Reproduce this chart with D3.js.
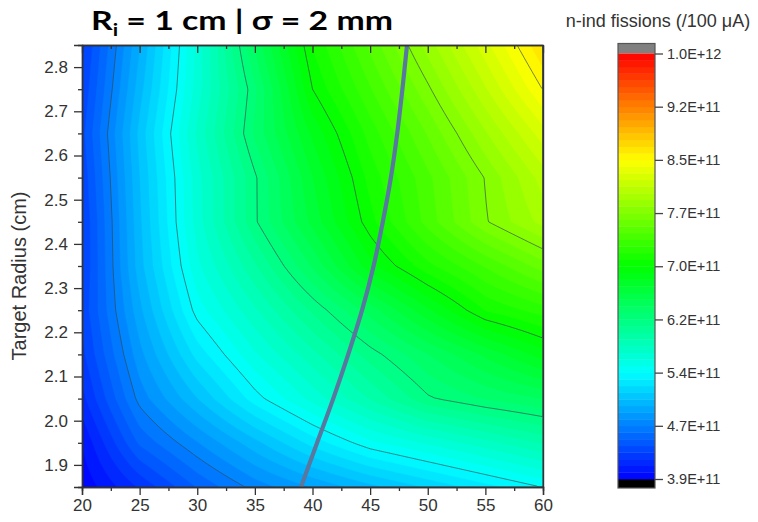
<!DOCTYPE html>
<html><head><meta charset="utf-8">
<script src="https://cdn.jsdelivr.net/npm/d3@7"></script>
<style>
body{margin:0;background:#fff}
svg{display:block}
</style>
</head><body>
<svg id="chart" width="758" height="522"></svg>
<script>
// ---------------- data ----------------
const beamEnergy   = [20, 25, 30, 35, 40, 45, 50, 55, 60];
const targetRadius = [1.85, 1.95, 2.05, 2.15, 2.25, 2.35, 2.45, 2.55, 2.65, 2.75, 2.85];
// n-induced fissions per 100 uA, in units of 1E+11; one row per target radius (bottom -> top)
const fissions = [
  [3.92, 4.20, 4.48, 4.70, 4.86, 5.01, 5.15, 5.29, 5.43],
  [4.00, 4.49, 4.75, 5.01, 5.27, 5.49, 5.63, 5.77, 5.91],
  [4.15, 4.70, 5.04, 5.38, 5.65, 5.91, 6.17, 6.29, 6.38],
  [4.25, 4.82, 5.27, 5.60, 5.87, 6.14, 6.37, 6.59, 6.81],
  [4.30, 4.92, 5.47, 5.79, 6.11, 6.42, 6.74, 7.05, 7.19],
  [4.27, 5.00, 5.59, 5.98, 6.39, 6.82, 7.11, 7.34, 7.57],
  [4.27, 5.02, 5.66, 6.17, 6.60, 7.01, 7.37, 7.70, 7.94],
  [4.30, 5.04, 5.67, 6.17, 6.66, 7.08, 7.40, 7.72, 8.04],
  [4.34, 5.07, 5.73, 6.30, 6.78, 7.18, 7.53, 7.89, 8.24],
  [4.29, 5.00, 5.66, 6.26, 6.95, 7.32, 7.69, 8.08, 8.48],
  [4.25, 4.94, 5.64, 6.39, 7.05, 7.45, 7.85, 8.25, 8.66]
];
// optimum ridge line (thick curve)
const ridgeX = [39.0, 40.4, 41.8, 43.1, 44.3, 45.3, 46.1, 46.8, 47.35, 47.8, 48.2];
const ridgeY = [1.85, 1.95, 2.05, 2.15, 2.25, 2.35, 2.45, 2.55, 2.65, 2.75, 2.85];

const xTicks = [20, 25, 30, 35, 40, 45, 50, 55, 60];
const xMinorTicks = [22.5, 27.5, 32.5, 37.5, 42.5, 47.5, 52.5, 57.5];
const yTicks = [1.9, 2.0, 2.1, 2.2, 2.3, 2.4, 2.5, 2.6, 2.7, 2.8];
const yMinorTicks = [1.95, 2.05, 2.15, 2.25, 2.35, 2.45, 2.55, 2.65, 2.75];
const cbMin = 3.9, cbMax = 10.0;      // colour scale range (1E+11)
const cbTickValues = [3.9, 4.6625, 5.425, 6.1875, 6.95, 7.7125, 8.475, 9.2375, 10.0];
const cbTickLabels = ["3.9E+11","4.7E+11","5.4E+11","6.2E+11","7.0E+11","7.7E+11","8.5E+11","9.2E+11","1.0E+12"];
const paletteColors = ["#0000ff", "#00ffff", "#00ff00", "#ffff00", "#ff0000"];
const nBands = 64;

const FONT = '"Liberation Sans",Arial,sans-serif';

// ---------------- layout ----------------
const svg = d3.select("#chart");
const P = {left: 82, right: 543, top: 45, bottom: 487};
const x = d3.scaleLinear().domain([20, 60]).range([P.left, P.right]);
const y = d3.scaleLinear().domain([1.85, 2.85]).range([P.bottom, P.top]);

const color = d3.scaleLinear()
  .domain(d3.range(paletteColors.length).map(i => cbMin + i * (cbMax - cbMin) / (paletteColors.length - 1)))
  .range(paletteColors).interpolate(d3.interpolateRgb).clamp(true);
const step = (cbMax - cbMin) / nBands;
const levels = d3.range(nBands).map(k => cbMin + k * step);

// bilinear interpolation of the grid
function zAt(xv, yv) {
  let i = Math.min(Math.max(d3.bisectRight(beamEnergy, xv) - 1, 0), beamEnergy.length - 2);
  let j = Math.min(Math.max(d3.bisectRight(targetRadius, yv) - 1, 0), targetRadius.length - 2);
  const tx = (xv - beamEnergy[i]) / (beamEnergy[i+1] - beamEnergy[i]);
  const ty = (yv - targetRadius[j]) / (targetRadius[j+1] - targetRadius[j]);
  const a = fissions[j][i], b = fissions[j][i+1], c = fissions[j+1][i], d = fissions[j+1][i+1];
  return (a*(1-tx) + b*tx) * (1-ty) + (c*(1-tx) + d*tx) * ty;
}
const nx = 231, ny = 221;
const x0 = x.domain()[0], x1 = x.domain()[1], yTop = y.domain()[1], yBot = y.domain()[0];
const values = new Array(nx * ny);
for (let j = 0; j < ny; j++) {
  const yv = yTop - (j + 0.5) / ny * (yTop - yBot);
  for (let i = 0; i < nx; i++) {
    const xv = x0 + (i + 0.5) / nx * (x1 - x0);
    values[j * nx + i] = zAt(xv, yv);
  }
}
const proj = d3.geoTransform({
  point(gx, gy) {
    this.stream.point(x(x0 + gx / nx * (x1 - x0)), y(yTop - gy / ny * (yTop - yBot)));
  }
});
const path = d3.geoPath(proj);

svg.append("defs").append("clipPath").attr("id", "plotclip")
  .append("rect").attr("x", P.left).attr("y", P.top)
  .attr("width", P.right - P.left).attr("height", P.bottom - P.top);

const plot = svg.append("g").attr("clip-path", "url(#plotclip)");
const bands = d3.contours().size([nx, ny]).thresholds(levels)(values);
plot.append("g").selectAll("path").data(bands).join("path")
  .attr("d", path)
  .attr("fill", d => color(d.value + step / 2))
  .attr("stroke", d => color(d.value + step / 2))
  .attr("stroke-width", 0.5);

const lineLevels = cbTickValues.slice(1, -1);
const lines = d3.contours().size([nx, ny]).thresholds(lineLevels)(values);
plot.append("g").selectAll("path").data(lines).join("path")
  .attr("d", path)
  .attr("fill", "none")
  .attr("stroke", "#34464e")
  .attr("stroke-opacity", 0.65)
  .attr("stroke-width", 1);

// ridge curve
plot.append("path")
  .datum(ridgeX.map((v, i) => [v, ridgeY[i]]))
  .attr("d", d3.line().x(d => x(d[0])).y(d => y(d[1])).curve(d3.curveCatmullRom))
  .attr("fill", "none")
  .attr("stroke", "#5878a0")
  .attr("stroke-width", 4.2)
  .attr("stroke-linecap", "butt");

// ---------------- axes ----------------
function styleAxis(g) {
  g.selectAll("path.domain").attr("stroke", "#333").attr("stroke-width", 1.4);
  g.selectAll(".tick line").attr("stroke", "#333").attr("stroke-width", 1.3);
  g.selectAll("text").attr("font-size", 17).attr("fill", "#333").attr("font-family", FONT);
}
svg.append("g").attr("transform", `translate(0,${P.bottom})`)
  .call(d3.axisBottom(x).tickValues(xTicks).tickSize(8).tickPadding(4).tickFormat(d3.format("d")))
  .call(styleAxis);
svg.append("g").attr("transform", `translate(0,${P.bottom})`)
  .call(d3.axisBottom(x).tickValues(xMinorTicks).tickSize(4).tickFormat(""))
  .call(styleAxis);
svg.append("g").attr("transform", `translate(0,${P.top})`)
  .call(d3.axisTop(x).tickValues(xTicks).tickSizeInner(-8).tickSizeOuter(0).tickFormat(""))
  .call(styleAxis);
svg.append("g").attr("transform", `translate(0,${P.top})`)
  .call(d3.axisTop(x).tickValues(xMinorTicks).tickSizeInner(-4).tickSizeOuter(0).tickFormat(""))
  .call(styleAxis);
svg.append("g").attr("transform", `translate(${P.left},0)`)
  .call(d3.axisLeft(y).tickValues(yTicks).tickSize(8).tickPadding(6).tickFormat(d3.format(".1f")))
  .call(styleAxis);
svg.append("g").attr("transform", `translate(${P.left},0)`)
  .call(d3.axisLeft(y).tickValues(yMinorTicks).tickSize(4).tickFormat(""))
  .call(styleAxis);
svg.append("g").attr("transform", `translate(${P.right},0)`)
  .call(d3.axisRight(y).tickValues([]).tickSizeOuter(0))
  .call(styleAxis);

svg.append("text")
  .attr("transform", `translate(26,${(P.top + P.bottom) / 2 + 10}) rotate(-90)`)
  .attr("text-anchor", "middle")
  .attr("font-family", FONT)
  .attr("fill", "#333")
  .attr("font-size", 20)
  .text("Target Radius (cm)");

// ---------------- title ----------------
const title = svg.append("text")
  .attr("x", 91).attr("y", 30)
  .style("font-family", "Lato, 'Open Sans', sans-serif")
  .style("font-weight", 700)
  .style("font-size", "27px")
  .attr("fill", "#000")
  .attr("textLength", 302).attr("lengthAdjust", "spacingAndGlyphs");
title.append("tspan").text("R");
title.append("tspan").style("font-size", "17px").attr("dy", 6).text("i");
title.append("tspan").attr("dy", -6).text("\u00A0= 1 cm | \u03C3 = 2 mm");

// ---------------- colour bar ----------------
const cb = {x: 618, w: 37, top: 53.5, bottom: 479};
const cy = d3.scaleLinear().domain([cbMin, cbMax]).range([cb.bottom, cb.top]);
const cbg = svg.append("g");
cbg.append("rect").attr("x", cb.x).attr("y", cb.top - 10).attr("width", cb.w).attr("height", 10).attr("fill", "#808080");
cbg.append("rect").attr("x", cb.x).attr("y", cb.bottom).attr("width", cb.w).attr("height", 9).attr("fill", "#000");
cbg.selectAll("rect.band").data(levels).join("rect").attr("class", "band")
  .attr("x", cb.x).attr("width", cb.w)
  .attr("y", d => cy(d + step))
  .attr("height", d => cy(d) - cy(d + step) + 0.4)
  .attr("fill", d => color(d + step / 2));
cbg.append("rect").attr("x", cb.x).attr("y", cb.top - 10).attr("width", cb.w)
  .attr("height", cb.bottom + 9 - (cb.top - 10))
  .attr("fill", "none").attr("stroke", "#555").attr("stroke-width", 1.2);
const cbAxis = svg.append("g").attr("transform", `translate(${cb.x + cb.w},0)`)
  .call(d3.axisRight(cy).tickValues(cbTickValues).tickSize(8).tickPadding(4)
    .tickFormat((d, i) => cbTickLabels[i]));
cbAxis.select("path.domain").remove();
cbAxis.selectAll(".tick line").attr("stroke", "#444").attr("stroke-width", 1.3);
cbAxis.selectAll("text").attr("font-size", 14.5).attr("fill", "#333").attr("font-family", FONT);

svg.append("text")
  .attr("x", 658).attr("y", 27)
  .attr("text-anchor", "middle")
  .attr("font-family", FONT)
  .attr("fill", "#333")
  .attr("font-size", 18)
  .text("n-ind fissions (/100 \u03BCA)");
</script>
</body></html>
